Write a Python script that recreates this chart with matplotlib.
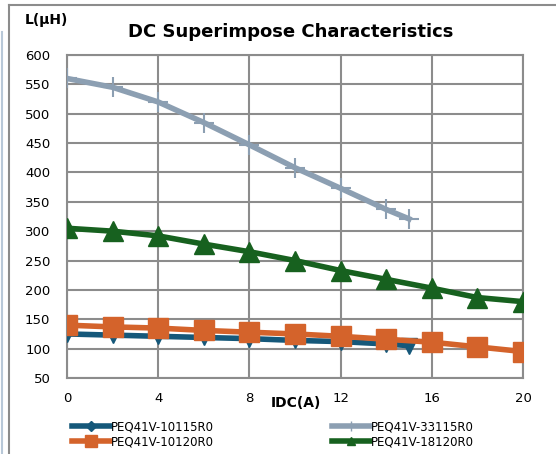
import matplotlib
matplotlib.use("Agg")
import matplotlib.pyplot as plt
from matplotlib.lines import Line2D

x_a = [0, 2, 4, 6, 8, 10, 12, 14, 15]
y_10115 = [125, 123, 121, 119, 117, 114, 112, 108, 105]
y_33115 = [560, 545, 520, 485, 447, 408, 373, 337, 321]
x_b = [0, 2, 4, 6, 8, 10, 12, 14, 16, 18, 20]
y_10120 = [140, 137, 135, 131, 128, 125, 121, 116, 111, 103, 95]
y_18120 = [305, 300, 292, 278, 265, 250, 233, 218, 203, 187, 180]

names = ["PEQ41V-10115R0", "PEQ41V-33115R0", "PEQ41V-10120R0", "PEQ41V-18120R0"]
xticks = [0, 4, 8, 12, 16, 20]
yticks = list(range(50, 601, 50))

c_blue = "#15587a"
c_gray = "#8c9fb2"
c_orange = "#d4632b"
c_green = "#17611f"
grid_c = "#8c8c8c"

fig = plt.figure(figsize=(5.56, 4.54), dpi=100)
ax = fig.add_axes([0.1205, 0.1674, 0.8201, 0.7115])

ax.plot(x_a, y_33115, color=c_gray, lw=4, marker="+", ms=14, mew=1.5, zorder=3)
ax.plot(x_b, y_18120, color=c_green, lw=4, marker="^", ms=15, zorder=4)
ax.plot(x_a, y_10115, color=c_blue, lw=4, marker="v", ms=11, zorder=4)
ax.plot(x_b, y_10120, color=c_orange, lw=4, marker="s", ms=14, zorder=5)

ax.set_xlim(0, 20)
ax.set_ylim(50, 600)
ax.set_xticks(xticks)
ax.set_yticks(yticks)
ax.grid(True, color=grid_c, lw=1.5)
ax.set_axisbelow(True)
for s in ax.spines.values():
    s.set_color(grid_c)
    s.set_linewidth(1.5)
ax.tick_params(length=0, labelsize=9.5)
ax.tick_params(axis="y", pad=12)
ax.tick_params(axis="x", pad=10)

fig.text(0.532, 0.112, "IDC(A)", ha="center", va="center", fontsize=10, fontweight="bold", family="Liberation Sans Narrow")
fig.text(0.045, 0.955, "L(μH)", ha="left", va="center", fontsize=10, fontweight="bold")
fig.text(0.522, 0.93, "DC Superimpose Characteristics", ha="center", va="center", fontsize=13, fontweight="bold")

h = {
    names[0]: Line2D([], [], color=c_blue, lw=4, marker="D", ms=5),
    names[1]: Line2D([], [], color=c_gray, lw=4, marker="+", ms=7),
    names[2]: Line2D([], [], color=c_orange, lw=4, marker="s", ms=8),
    names[3]: Line2D([], [], color=c_green, lw=4, marker="^", ms=6),
}
order = [names[0], names[2], names[1], names[3]]
fig.legend([h[n] for n in order], order, loc="center", bbox_to_anchor=(0.491, 0.043), ncol=2,
           frameon=False, fontsize=8.5, handlelength=3.2, handletextpad=0.1,
           columnspacing=10.0, labelspacing=0.15, borderaxespad=0)

# outer frame lines
fig.add_artist(Line2D([0.017, 0.017], [0.0, 0.99], color=grid_c, lw=1.5, transform=fig.transFigure))
fig.add_artist(Line2D([0.017, 1.0], [0.99, 0.99], color=grid_c, lw=1.5, transform=fig.transFigure))
fig.add_artist(Line2D([0.004, 0.004], [0.0, 0.93], color="#b8c8d8", lw=1.5, transform=fig.transFigure))

fig.savefig("out.png", dpi=100)
